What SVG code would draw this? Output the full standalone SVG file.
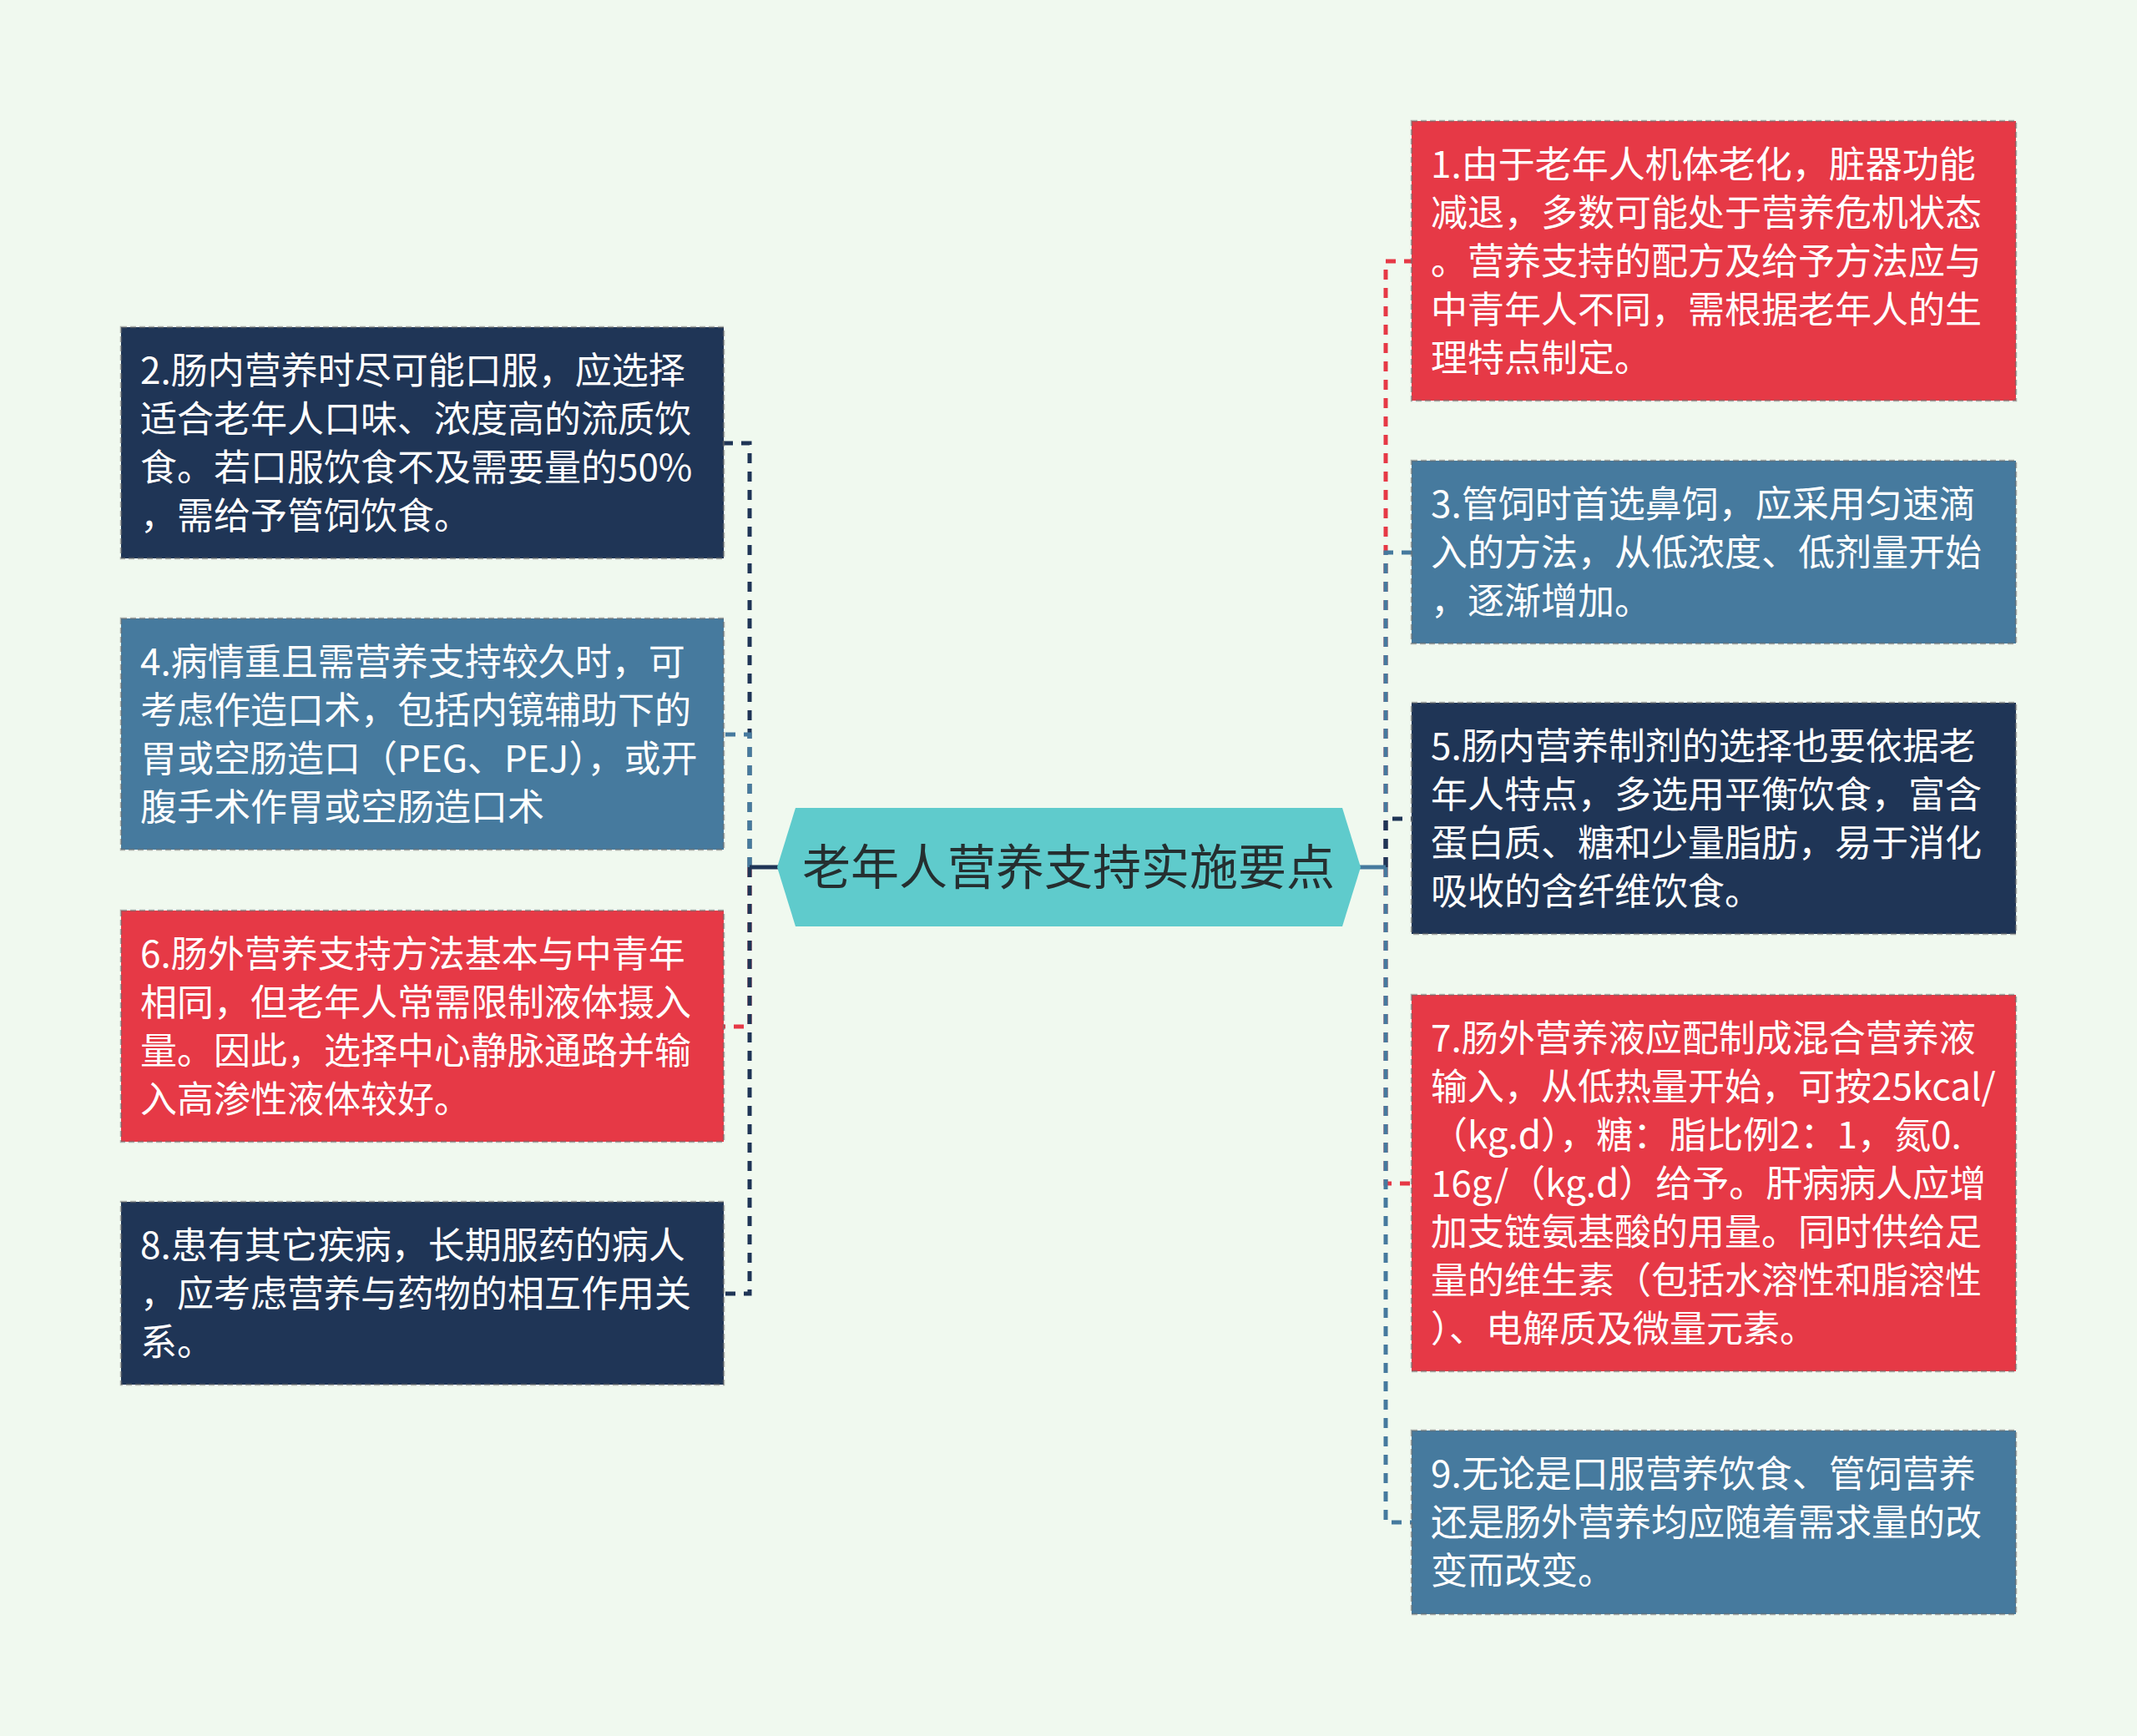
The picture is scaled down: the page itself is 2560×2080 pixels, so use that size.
<svg xmlns="http://www.w3.org/2000/svg" width="2560" height="2080" viewBox="0 0 2560 2080">
<style>
.bg{fill:#f0f9ef}
.box{stroke:rgba(110,110,110,0.55);stroke-width:2.5;stroke-dasharray:7 4}
.navy{fill:#1f3556}
.steel{fill:#467a9e}
.red{fill:#e63946}
.t{font-family:"Noto Sans CJK SC","Noto Sans",sans-serif;font-size:44px;fill:#ffffff}
.title{font-family:"Noto Sans CJK SC","Noto Sans",sans-serif;font-size:58px;fill:#252f30;text-anchor:middle}
.c{fill:none;stroke-width:5;stroke-dasharray:12 10}
.cn{stroke:#1f3556}
.cs{stroke:#467a9e}
.cr{stroke:#e63946}
.stub{fill:none;stroke-width:5}
</style>
<rect class="bg" x="0" y="0" width="2560" height="2080"/>
<g id="connectors">
<path class="c cn" d="M898,1039 V531 H867"/>
<path class="c cs" d="M898,1039 V880 H867"/>
<path class="c cr" d="M898,1039 V1230 H867"/>
<path class="c cn" d="M898,1039 V1550 H867"/>
<path class="stub cn" d="M898,1039 H932"/>
<path class="c cr" d="M1660,1039 V313 H1691"/>
<path class="c cs" d="M1660,1039 V662 H1691"/>
<path class="c cn" d="M1660,1039 V981 H1691"/>
<path class="c cr" d="M1660,1039 V1418 H1691"/>
<path class="c cs" d="M1660,1039 V1824 H1691"/>
<path class="stub cs" d="M1660,1039 H1628"/>
</g>
<g id="root">
<polygon points="931,1039 953,968 1608,968 1630,1039 1608,1110 953,1110" fill="#5fcbcc"/>
<text class="title" x="1280" y="1060">老年人营养支持实施要点</text>
</g>
<g id="n2">
<rect class="box navy" x="145" y="392" width="722" height="277"/>
<text class="t" x="168" y="460">2.肠内营养时尽可能口服，应选择</text>
<text class="t" x="168" y="518">适合老年人口味、浓度高的流质饮</text>
<text class="t" x="168" y="576">食。若口服饮食不及需要量的50%</text>
<text class="t" x="168" y="634">，需给予管饲饮食。</text>
</g>
<g id="n4">
<rect class="box steel" x="145" y="741" width="722" height="277"/>
<text class="t" x="168" y="809">4.病情重且需营养支持较久时，可</text>
<text class="t" x="168" y="867">考虑作造口术，包括内镜辅助下的</text>
<text class="t" x="168" y="925">胃或空肠造口（PEG、PEJ），或开</text>
<text class="t" x="168" y="983">腹手术作胃或空肠造口术</text>
</g>
<g id="n6">
<rect class="box red" x="145" y="1091" width="722" height="277"/>
<text class="t" x="168" y="1159">6.肠外营养支持方法基本与中青年</text>
<text class="t" x="168" y="1217">相同，但老年人常需限制液体摄入</text>
<text class="t" x="168" y="1275">量。因此，选择中心静脉通路并输</text>
<text class="t" x="168" y="1333">入高渗性液体较好。</text>
</g>
<g id="n8">
<rect class="box navy" x="145" y="1440" width="722" height="219"/>
<text class="t" x="168" y="1508">8.患有其它疾病，长期服药的病人</text>
<text class="t" x="168" y="1566">，应考虑营养与药物的相互作用关</text>
<text class="t" x="168" y="1624">系。</text>
</g>
<g id="n1">
<rect class="box red" x="1691" y="145" width="724" height="335"/>
<text class="t" x="1714" y="213">1.由于老年人机体老化，脏器功能</text>
<text class="t" x="1714" y="271">减退，多数可能处于营养危机状态</text>
<text class="t" x="1714" y="329">。营养支持的配方及给予方法应与</text>
<text class="t" x="1714" y="387">中青年人不同，需根据老年人的生</text>
<text class="t" x="1714" y="445">理特点制定。</text>
</g>
<g id="n3">
<rect class="box steel" x="1691" y="552" width="724" height="219"/>
<text class="t" x="1714" y="620">3.管饲时首选鼻饲，应采用匀速滴</text>
<text class="t" x="1714" y="678">入的方法，从低浓度、低剂量开始</text>
<text class="t" x="1714" y="736">，逐渐增加。</text>
</g>
<g id="n5">
<rect class="box navy" x="1691" y="842" width="724" height="277"/>
<text class="t" x="1714" y="910">5.肠内营养制剂的选择也要依据老</text>
<text class="t" x="1714" y="968">年人特点，多选用平衡饮食，富含</text>
<text class="t" x="1714" y="1026">蛋白质、糖和少量脂肪，易于消化</text>
<text class="t" x="1714" y="1084">吸收的含纤维饮食。</text>
</g>
<g id="n7">
<rect class="box red" x="1691" y="1192" width="724" height="451"/>
<text class="t" x="1714" y="1260">7.肠外营养液应配制成混合营养液</text>
<text class="t" x="1714" y="1318">输入，从低热量开始，可按25kcal/</text>
<text class="t" x="1714" y="1376">（kg.d），糖：脂比例2：1，氮0.</text>
<text class="t" x="1714" y="1434">16g/（kg.d）给予。肝病病人应增</text>
<text class="t" x="1714" y="1492">加支链氨基酸的用量。同时供给足</text>
<text class="t" x="1714" y="1550">量的维生素（包括水溶性和脂溶性</text>
<text class="t" x="1714" y="1608">）、电解质及微量元素。</text>
</g>
<g id="n9">
<rect class="box steel" x="1691" y="1714" width="724" height="220"/>
<text class="t" x="1714" y="1782">9.无论是口服营养饮食、管饲营养</text>
<text class="t" x="1714" y="1840">还是肠外营养均应随着需求量的改</text>
<text class="t" x="1714" y="1898">变而改变。</text>
</g>
</svg>
